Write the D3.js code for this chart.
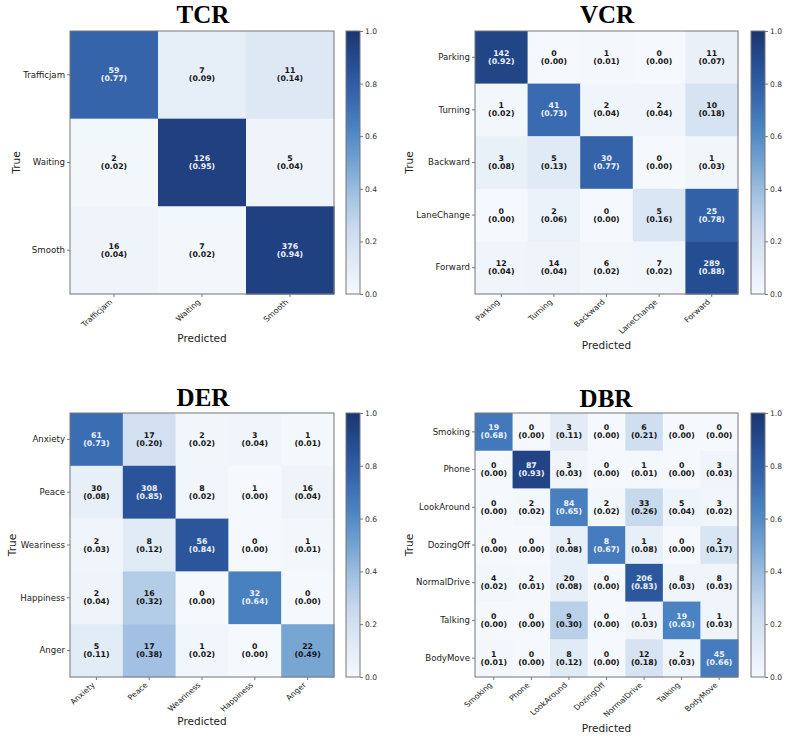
<!DOCTYPE html>
<html>
<head>
<meta charset="utf-8">
<script src="https://cdn.jsdelivr.net/npm/d3@7"></script>
<style>
  body { margin: 0; background: #fff; }
</style>
</head>
<body>
<div id="figure"></div>
<script>
// ---- data ----
var tcrLabels = ["Trafficjam", "Waiting", "Smooth"];
var tcrCounts = [
  [59, 7, 11],
  [2, 126, 5],
  [16, 7, 376]
];

var vcrLabels = ["Parking", "Turning", "Backward", "LaneChange", "Forward"];
var vcrCounts = [
  [142, 0, 1, 0, 11],
  [1, 41, 2, 2, 10],
  [3, 5, 30, 0, 1],
  [0, 2, 0, 5, 25],
  [12, 14, 6, 7, 289]
];

var derLabels = ["Anxiety", "Peace", "Weariness", "Happiness", "Anger"];
var derCounts = [
  [61, 17, 2, 3, 1],
  [30, 308, 8, 1, 16],
  [2, 8, 56, 0, 1],
  [2, 16, 0, 32, 0],
  [5, 17, 1, 0, 22]
];

var dbrLabels = ["Smoking", "Phone", "LookAround", "DozingOff", "NormalDrive", "Talking", "BodyMove"];
var dbrCounts = [
  [19, 0, 3, 0, 6, 0, 0],
  [0, 87, 3, 0, 1, 0, 3],
  [0, 2, 84, 2, 33, 5, 3],
  [0, 0, 1, 8, 1, 0, 2],
  [4, 2, 20, 0, 206, 8, 8],
  [0, 0, 9, 0, 1, 19, 1],
  [1, 0, 8, 0, 12, 2, 45]
];

var cbarTicks = [0, 0.2, 0.4, 0.6, 0.8, 1.0];

// "Blues"-like map, toned to the scanned figure
var bluesStops = ["#f5f9fd", "#e0eaf5", "#c9daee", "#a3c2e2", "#74a3d2", "#4c85c3", "#3767ae", "#264e94", "#1b3670"];
var color = d3.scaleLinear()
  .domain(d3.range(bluesStops.length).map(function(i) { return i / (bluesStops.length - 1); }))
  .range(bluesStops)
  .interpolate(d3.interpolateRgb)
  .clamp(true);

var SANS = "'DejaVu Sans', sans-serif";

var W = 788, H = 742;
var svg = d3.select("#figure").append("svg")
  .attr("width", W)
  .attr("height", H)
  .attr("font-family", SANS);

var defs = svg.append("defs");
var grad = defs.append("linearGradient")
  .attr("id", "cbarGrad")
  .attr("x1", 0).attr("y1", 1).attr("x2", 0).attr("y2", 0);
bluesStops.forEach(function(c, i) {
  grad.append("stop")
    .attr("offset", (i / (bluesStops.length - 1) * 100) + "%")
    .attr("stop-color", c);
});

function drawMatrix(opt) {
  var labels = opt.labels, counts = opt.counts;
  var n = labels.length;
  var g = svg.append("g");

  var x = d3.scaleBand().domain(d3.range(n)).range([opt.x0, opt.x1]);
  var y = d3.scaleBand().domain(d3.range(n)).range([opt.y0, opt.y1]);

  var cells = [];
  counts.forEach(function(row, i) {
    var tot = d3.sum(row);
    row.forEach(function(v, j) {
      cells.push({ i: i, j: j, v: v, r: v / tot });
    });
  });

  g.selectAll("rect.cell")
    .data(cells)
    .enter().append("rect")
    .attr("class", "cell")
    .attr("x", function(d) { return x(d.j); })
    .attr("y", function(d) { return y(d.i); })
    .attr("width", x.bandwidth() + 0.5)
    .attr("height", y.bandwidth() + 0.5)
    .attr("fill", function(d) { return color(d.r); });

  var txt = g.selectAll("text.val")
    .data(cells)
    .enter().append("text")
    .attr("class", "val")
    .attr("text-anchor", "middle")
    .attr("font-size", "7.8px")
    .attr("font-weight", "bold")
    .attr("fill", function(d) { return d.r > 0.5 ? "#eef3fa" : "#141414"; });
  txt.append("tspan")
    .attr("x", function(d) { return x(d.j) + x.bandwidth() / 2; })
    .attr("y", function(d) { return y(d.i) + y.bandwidth() / 2 - 1.5; })
    .text(function(d) { return d.v; });
  txt.append("tspan")
    .attr("x", function(d) { return x(d.j) + x.bandwidth() / 2; })
    .attr("y", function(d) { return y(d.i) + y.bandwidth() / 2 + 6.5; })
    .text(function(d) { return "(" + d.r.toFixed(2) + ")"; });

  // frame
  g.append("rect")
    .attr("x", opt.x0).attr("y", opt.y0)
    .attr("width", opt.x1 - opt.x0).attr("height", opt.y1 - opt.y0)
    .attr("fill", "none")
    .attr("stroke", "#777")
    .attr("stroke-width", 1);

  // axes
  var yAxis = d3.axisLeft(y).tickSize(3).tickPadding(2).tickFormat(function(i) { return labels[i]; });
  var ya = g.append("g").attr("transform", "translate(" + opt.x0 + ",0)").call(yAxis)
    .attr("font-family", SANS);
  ya.select(".domain").remove();
  ya.selectAll("line").attr("stroke", "#777");
  ya.selectAll("text").attr("font-size", "8.6px").attr("fill", "#222");

  var xAxis = d3.axisBottom(x).tickSize(3).tickFormat(function(i) { return labels[i]; });
  var xa = g.append("g").attr("transform", "translate(0," + opt.y1 + ")").call(xAxis)
    .attr("font-family", SANS);
  xa.select(".domain").remove();
  xa.selectAll("line").attr("stroke", "#777");
  xa.selectAll("text")
    .attr("font-size", "8.2px")
    .attr("fill", "#222")
    .attr("text-anchor", "end")
    .attr("dy", null)
    .attr("y", null)
    .attr("transform", "translate(-1,8.5) scale(1,0.88) rotate(-45)");

  // axis titles
  g.append("text")
    .attr("x", (opt.x0 + opt.x1) / 2)
    .attr("y", opt.predY)
    .attr("text-anchor", "middle")
    .attr("font-size", "10.5px")
    .attr("fill", "#222")
    .text("Predicted");
  g.append("text")
    .attr("transform", "translate(" + opt.trueX + "," + ((opt.y0 + opt.y1) / 2) + ") rotate(-90)")
    .attr("text-anchor", "middle")
    .attr("font-size", "10.5px")
    .attr("fill", "#222")
    .text("True");

  // title
  g.append("text")
    .attr("x", opt.titleX)
    .attr("y", opt.titleY)
    .attr("text-anchor", "middle")
    .attr("font-family", "'Liberation Serif', 'Times New Roman', serif")
    .attr("font-weight", "bold")
    .attr("font-size", "25px")
    .attr("fill", "#000")
    .text(opt.title);

  // colorbar
  var cs = d3.scaleLinear().domain([0, 1]).range([opt.y1, opt.y0]);
  g.append("rect")
    .attr("x", opt.cx).attr("y", opt.y0)
    .attr("width", 14).attr("height", opt.y1 - opt.y0)
    .attr("fill", "url(#cbarGrad)")
    .attr("stroke", "#777")
    .attr("stroke-width", 1);
  var ca = g.append("g")
    .attr("transform", "translate(" + (opt.cx + 14) + ",0)")
    .call(d3.axisRight(cs).tickValues(cbarTicks).tickSize(3).tickPadding(2).tickFormat(d3.format(".1f")))
    .attr("font-family", SANS);
  ca.select(".domain").remove();
  ca.selectAll("line").attr("stroke", "#777");
  ca.selectAll("text").attr("font-size", "7.6px").attr("fill", "#333");
}

drawMatrix({ title: "TCR", labels: tcrLabels, counts: tcrCounts,
  x0: 70, x1: 334, y0: 31, y1: 294, cx: 346, titleX: 203, titleY: 23, predY: 342, trueX: 20 });
drawMatrix({ title: "VCR", labels: vcrLabels, counts: vcrCounts,
  x0: 475, x1: 738, y0: 31, y1: 294, cx: 751, titleX: 607, titleY: 23, predY: 349, trueX: 413 });
drawMatrix({ title: "DER", labels: derLabels, counts: derCounts,
  x0: 70, x1: 334, y0: 413, y1: 677, cx: 346, titleX: 203, titleY: 406, predY: 725, trueX: 16 });
drawMatrix({ title: "DBR", labels: dbrLabels, counts: dbrCounts,
  x0: 475, x1: 738, y0: 413, y1: 677, cx: 751, titleX: 606, titleY: 407, predY: 732, trueX: 413 });
</script>
</body>
</html>
